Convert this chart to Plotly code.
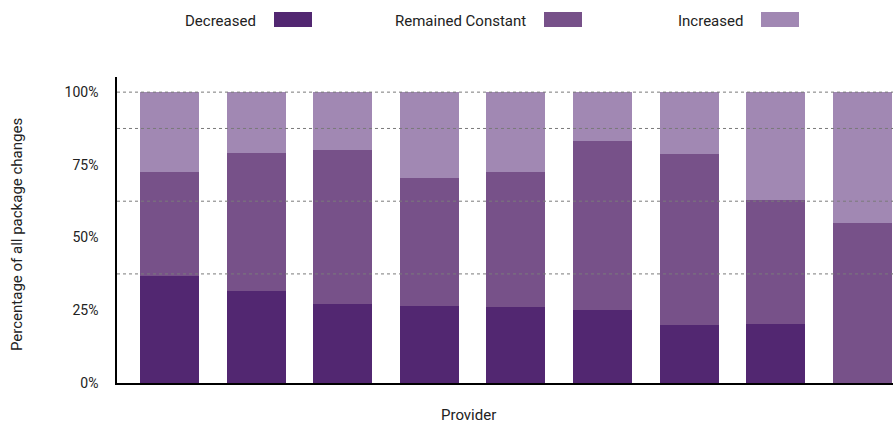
import plotly.graph_objects as go

providers = ["P1", "P2", "P3", "P4", "P5", "P6", "P7", "P8", "P9"]
decreased = [36.9, 31.6, 27.1, 26.6, 26.1, 25.1, 19.9, 20.3, 0.0]
remained = [35.6, 47.4, 53.0, 43.8, 46.4, 58.1, 58.8, 42.6, 55.0]
increased = [27.5, 21.0, 19.9, 29.6, 27.5, 16.8, 21.3, 37.1, 45.0]

series_names = ["Decreased", "Remained Constant", "Increased"]
series_colors = ["#522771", "#775189", "#a188b3"]
y_tick_vals = [0, 25, 50, 75, 100]
y_tick_text = ["0%", "25%", "50%", "75%", "100%"]
grid_vals = [37.5, 62.5, 87.5, 100]

fig = go.Figure()
for name, vals, col in zip(series_names, [decreased, remained, increased], series_colors):
    fig.add_trace(go.Bar(x=providers, y=vals, name=name, marker=dict(color=col, line=dict(width=0)),
                         showlegend=False))

L, T, PW, PH = 117, 77, 776, 306
font = "Roboto, Arial, sans-serif"
fig.update_layout(
    barmode="stack",
    bargap=0.32,
    width=894, height=423,
    margin=dict(l=L, r=894 - L - PW, t=T, b=423 - T - PH),
    plot_bgcolor="white", paper_bgcolor="white",
    font=dict(family=font, size=14, color="#222"),
    xaxis=dict(range=[-0.606, 8.354], showticklabels=False, ticks="", showgrid=False,
               showline=True, linecolor="black", linewidth=1.5, zeroline=False),
    yaxis=dict(range=[0, 105.2], tickvals=y_tick_vals, ticktext=y_tick_text, showgrid=False,
               showline=True, linecolor="black", linewidth=1.5, ticks="", zeroline=False,
               ticklabelstandoff=14, tickfont=dict(size=14, color="#222")),
)

shapes = []
for g in grid_vals:
    shapes.append(dict(type="line", xref="paper", x0=0, x1=1, yref="y", y0=g, y1=g,
                       line=dict(color="#7a7a7a", width=1, dash="dot"), layer="above"))

# legend: text followed by swatch
legend_text_right = [258, 528, 745]
for name, col, xr in zip(series_names, series_colors, legend_text_right):
    fig.add_annotation(text=name, xref="paper", yref="paper",
                       x=(xr - L) / PW, y=1 + (T - 21) / PH, xanchor="right", yanchor="middle",
                       showarrow=False, font=dict(size=15, color="#222"))
    x0 = (xr + 16 - L) / PW
    x1 = (xr + 54 - L) / PW
    shapes.append(dict(type="rect", xref="paper", yref="paper", x0=x0, x1=x1,
                       y0=1 + (T - 27) / PH, y1=1 + (T - 12) / PH,
                       fillcolor=col, line=dict(width=0)))

fig.add_annotation(text="Provider", xref="paper", yref="paper", x=(468 - L) / PW,
                   y=-(415 - 383) / PH, xanchor="center", yanchor="middle", showarrow=False,
                   font=dict(size=15, color="#222"))
fig.add_annotation(text="Percentage of all package changes", xref="paper", yref="paper",
                   x=(17 - L) / PW, y=(383 - 235) / PH, xanchor="center", yanchor="middle",
                   textangle=-90, showarrow=False, font=dict(size=15, color="#222"))

fig.update_layout(shapes=shapes)
fig.write_html("out.html", config={"displayModeBar": False},
               post_script="document.body.style.margin='0';document.body.style.overflow='hidden';")
